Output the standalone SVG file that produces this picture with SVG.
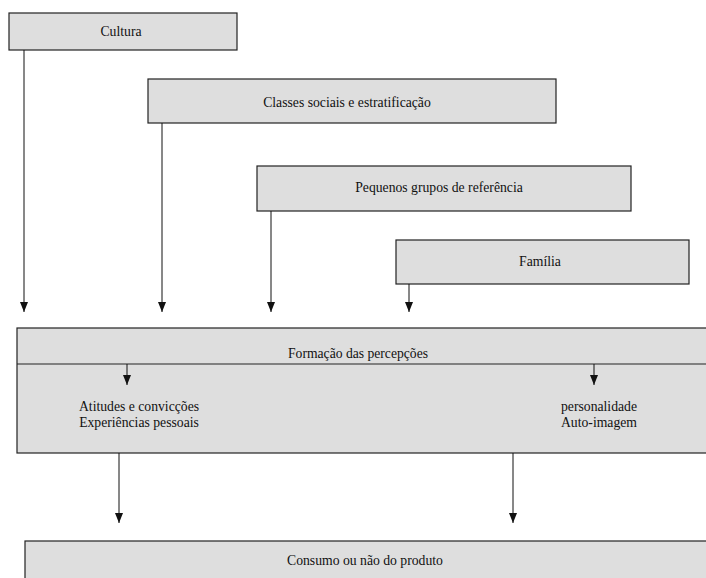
<svg xmlns="http://www.w3.org/2000/svg" width="706" height="578" viewBox="0 0 706 578">
<style>
.box{fill:#dedede;stroke:#222;stroke-width:1.2}
.t{font-family:"Liberation Serif","Times New Roman",serif;font-size:13.7px;fill:#111;text-anchor:middle}
</style>
<defs>
<marker id="ad" markerWidth="8" markerHeight="10" refX="4" refY="10" orient="0" markerUnits="userSpaceOnUse" viewBox="0 0 8 10">
<path d="M0,0 L8,0 L4,10 Z" fill="#111"/>
</marker>
</defs>
<g id="cultura"><rect class="box" x="9" y="13" width="228" height="37"/><text class="t" x="121" y="36">Cultura</text></g>
<g id="classes"><rect class="box" x="148" y="79" width="408" height="44"/><text class="t" x="347" y="107">Classes sociais e estratificação</text></g>
<g id="pequenos"><rect class="box" x="257" y="166" width="374" height="45"/><text class="t" x="439" y="192">Pequenos grupos de referência</text></g>
<g id="familia"><rect class="box" x="396" y="240" width="293" height="44"/><text class="t" x="540" y="266">Família</text></g>
<g id="formacao"><rect class="box" x="17" y="328" width="700" height="125"/><line x1="17" y1="364" x2="706" y2="364" stroke="#222" stroke-width="1"/><text class="t" x="358" y="358" textLength="140" lengthAdjust="spacingAndGlyphs">Formação das percepções</text>
<text class="t" x="139" y="411">Atitudes e convicções</text><text class="t" x="139" y="427">Experiências pessoais</text>
<text class="t" x="599" y="411">personalidade</text><text class="t" x="599" y="427">Auto-imagem</text></g>
<g id="consumo"><rect class="box" x="25" y="541" width="690" height="45"/><text class="t" x="365" y="565">Consumo ou não do produto</text></g>
<g id="connectors" stroke="#111" stroke-width="1" fill="none">
<line x1="24" y1="50" x2="24" y2="312" marker-end="url(#ad)"/>
<line x1="162" y1="123" x2="162" y2="312" marker-end="url(#ad)"/>
<line x1="271" y1="211" x2="271" y2="312" marker-end="url(#ad)"/>
<line x1="409" y1="284" x2="409" y2="312" marker-end="url(#ad)"/>
<line x1="127" y1="364" x2="127" y2="385" marker-end="url(#ad)"/>
<line x1="594" y1="364" x2="594" y2="385" marker-end="url(#ad)"/>
<line x1="119" y1="453" x2="119" y2="523" marker-end="url(#ad)"/>
<line x1="513" y1="453" x2="513" y2="523" marker-end="url(#ad)"/>
</g>
</svg>
